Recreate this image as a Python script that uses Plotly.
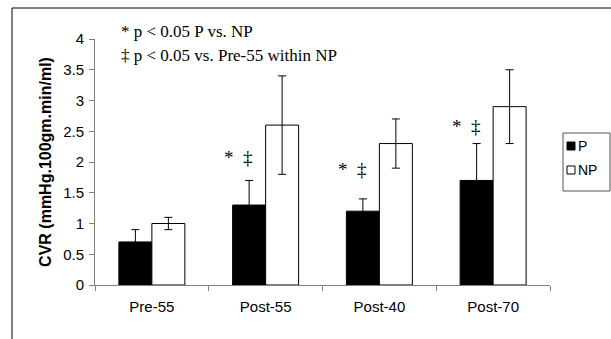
import plotly.graph_objects as go

categories = ["Pre-55", "Post-55", "Post-40", "Post-70"]
p_values = [0.7, 1.3, 1.2, 1.7]
p_errors = [0.2, 0.4, 0.2, 0.6]
np_values = [1.0, 2.6, 2.3, 2.9]
np_errors = [0.1, 0.8, 0.4, 0.6]
sig_categories = ["Post-55", "Post-40", "Post-70"]
sig_y = [2.08, 1.88, 2.58]
y_ticks = [0, 0.5, 1, 1.5, 2, 2.5, 3, 3.5, 4]

W, H = 611, 339
ML, MR, MT, MB = 95, 61, 39, 54
PW = W - ML - MR
PH = H - MT - MB
SANS = "Arial, Liberation Sans"
SERIF = "Liberation Serif"


def px_x(x):
    return (x - ML) / PW


def px_y(y):
    return (H - MB - y) / PH


fig = go.Figure()
fig.add_trace(go.Bar(
    name="P", x=categories, y=p_values,
    marker=dict(color="black", line=dict(color="black", width=1)),
    error_y=dict(type="data", array=p_errors, visible=True, color="black", thickness=1, width=4),
))
fig.add_trace(go.Bar(
    name="NP", x=categories, y=np_values,
    marker=dict(color="white", line=dict(color="black", width=1)),
    error_y=dict(type="data", array=np_errors, visible=True, color="black", thickness=1, width=4),
))

annotations = []
for c, yv in zip(sig_categories, sig_y):
    annotations.append(dict(
        x=c, y=yv, xref="x", yref="y", text="*  ‡", showarrow=False,
        xshift=-27, yanchor="middle", xanchor="center",
        font=dict(family=SERIF, size=19, color="black"),
    ))

annotations.append(dict(
    x=px_x(119), y=px_y(31), xref="paper", yref="paper", text="* p < 0.05 P vs. NP",
    showarrow=False, xanchor="left", yanchor="middle",
    font=dict(family=SERIF, size=17, color="black"),
))
annotations.append(dict(
    x=px_x(119), y=px_y(55), xref="paper", yref="paper", text="‡ p < 0.05 vs. Pre-55 within NP",
    showarrow=False, xanchor="left", yanchor="middle",
    font=dict(family=SERIF, size=17, color="black"),
))
# legend labels
annotations.append(dict(
    x=px_x(576), y=px_y(146), xref="paper", yref="paper", text="P",
    showarrow=False, xanchor="left", yanchor="middle",
    font=dict(family=SANS, size=14, color="black"),
))
annotations.append(dict(
    x=px_x(576), y=px_y(170), xref="paper", yref="paper", text="NP",
    showarrow=False, xanchor="left", yanchor="middle",
    font=dict(family=SANS, size=14, color="black"),
))

shapes = [
    # outer frame (top & left)
    dict(type="line", xref="paper", yref="paper", x0=px_x(12), x1=px_x(W + 5), y0=px_y(8), y1=px_y(8),
         line=dict(color="black", width=1)),
    dict(type="line", xref="paper", yref="paper", x0=px_x(12), x1=px_x(12), y0=px_y(8), y1=px_y(H + 5),
         line=dict(color="black", width=1)),
    # legend box
    dict(type="rect", xref="paper", yref="paper", x0=px_x(563), x1=px_x(610), y0=px_y(133), y1=px_y(191),
         line=dict(color="#555555", width=1), fillcolor="white"),
    dict(type="rect", xref="paper", yref="paper", x0=px_x(567), x1=px_x(575), y0=px_y(142), y1=px_y(150),
         line=dict(color="black", width=1), fillcolor="black"),
    dict(type="rect", xref="paper", yref="paper", x0=px_x(567), x1=px_x(575), y0=px_y(166), y1=px_y(174),
         line=dict(color="black", width=1), fillcolor="white"),
]

fig.update_layout(
    width=W, height=H,
    margin=dict(l=ML, r=MR, t=MT, b=MB, pad=0),
    paper_bgcolor="white", plot_bgcolor="white",
    barmode="group", bargap=0.42, bargroupgap=0,
    showlegend=False,
    font=dict(family=SANS, size=14, color="black"),
    annotations=annotations,
    shapes=shapes,
)
fig.update_xaxes(
    showline=True, linecolor="#808080", linewidth=1,
    ticks="outside", tickson="boundaries", ticklen=5, tickcolor="#808080",
    showgrid=False, zeroline=False, ticklabelstandoff=8,
    tickfont=dict(family=SANS, size=15, color="black"),
)
fig.update_yaxes(
    range=[0, 4], tickvals=y_ticks, showline=True, linecolor="#808080", linewidth=1,
    ticks="outside", ticklen=5, tickcolor="#808080",
    showgrid=False, zeroline=False, ticklabelstandoff=2,
    tickfont=dict(family=SANS, size=15, color="black"),
    title=dict(text="<b>CVR (mmHg.100gm.min/ml)</b>", standoff=7,
               font=dict(family=SANS, size=16, color="black")),
)

fig.write_html("out.html")
